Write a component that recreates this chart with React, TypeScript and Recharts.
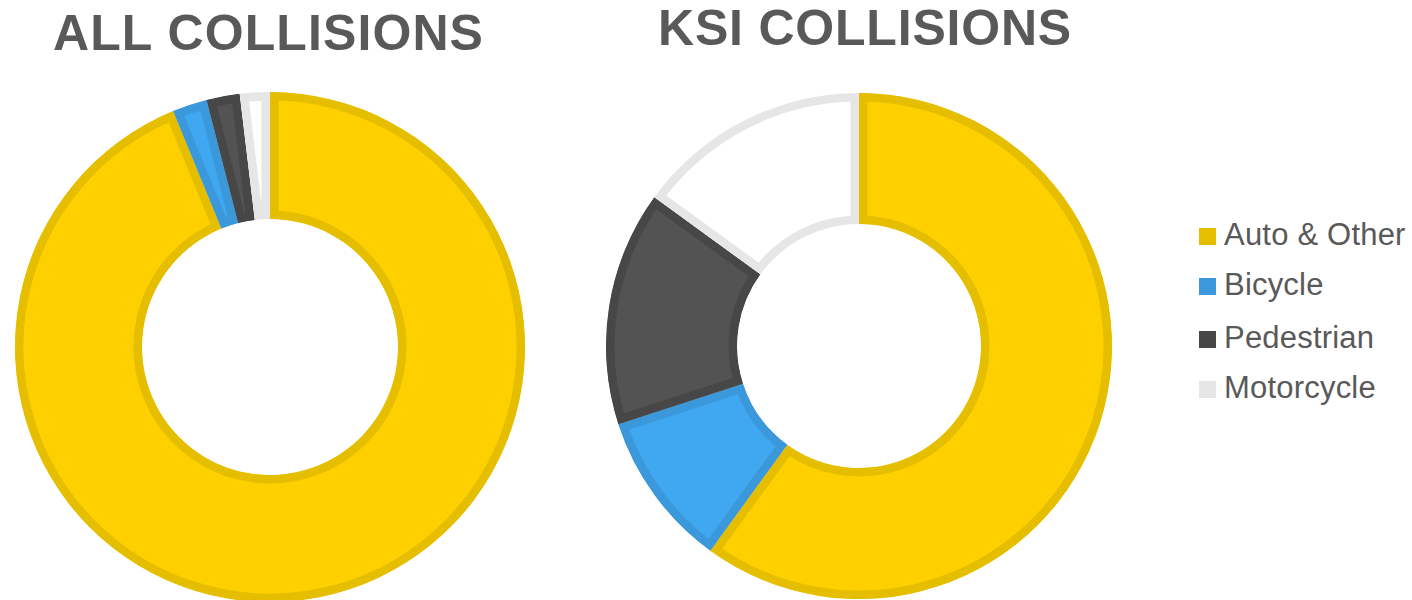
import { PieChart, Pie, Cell, Legend, Sector } from 'recharts';

const categories = ['Auto & Other', 'Bicycle', 'Pedestrian', 'Motorcycle'];
const allValues = [93.8, 2.2, 2.1, 1.9];
const ksiValues = [60, 10, 15, 15];

const fills = ['#FFD000', '#40A8F0', '#535353', '#FFFFFF'];
const borders = ['#E6BE00', '#3A98DB', '#474747', '#E6E6E6'];
const textColor = '#595959';
const font = '"Liberation Sans", Arial, sans-serif';

const allData = categories.map((name, i) => ({ name, value: allValues[i] }));
const ksiData = categories.map((name, i) => ({ name, value: ksiValues[i] }));

// sector with an inner border: stroke twice as wide, clipped to the sector itself
const makeShape = (prefix: string) => (props: any) => {
  const name = props.payload?.name ?? props.name;
  const idx = categories.indexOf(name);
  const id = `${prefix}-clip-${idx}`;
  const geo = {
    cx: props.cx,
    cy: props.cy,
    innerRadius: props.innerRadius,
    outerRadius: props.outerRadius,
    startAngle: props.startAngle,
    endAngle: props.endAngle,
  };
  return (
    <g>
      <defs>
        <clipPath id={id}>
          <Sector {...geo} />
        </clipPath>
      </defs>
      <Sector
        {...geo}
        fill={fills[idx]}
        stroke={borders[idx]}
        strokeWidth={17}
        clipPath={`url(#${id})`}
      />
    </g>
  );
};

function LegendBox() {
  return (
    <svg width={222} height={200}>
      {categories.map((c, i) => {
        const base = 35 + [0, 50, 103, 153][i];
        return (
          <g key={c}>
            <rect x={9} y={base - 17} width={17} height={17} fill={borders[i]} />
            <text x={34} y={base} fontFamily={font} fontSize={31} letterSpacing={0.2} fill={textColor}>
              {c}
            </text>
          </g>
        );
      })}
    </svg>
  );
}

export default function App() {
  return (
    <div style={{ position: 'fixed', left: 0, top: 0, width: 1412, height: 600, background: '#fff' }}>
      <PieChart width={1412} height={600} margin={{ top: 0, right: 0, bottom: 0, left: 0 }}>
        <Pie
          data={allData}
          dataKey="value"
          nameKey="name"
          cx={270}
          cy={347}
          innerRadius={128}
          outerRadius={255}
          startAngle={90}
          endAngle={-270}
          stroke="none"
          shape={makeShape('all')}
          isAnimationActive={false}
        >
          {allData.map((d, i) => (
            <Cell key={d.name} fill={fills[i]} />
          ))}
        </Pie>
        <Pie
          data={ksiData}
          dataKey="value"
          nameKey="name"
          cx={859}
          cy={346}
          innerRadius={122}
          outerRadius={253}
          startAngle={90}
          endAngle={-270}
          stroke="none"
          shape={makeShape('ksi')}
          isAnimationActive={false}
        >
          {ksiData.map((d, i) => (
            <Cell key={d.name} fill={fills[i]} />
          ))}
        </Pie>
        <Legend
          content={() => <LegendBox />}
          wrapperStyle={{ position: 'absolute', left: 1190, top: 210, width: 222 }}
        />
      </PieChart>
      <svg
        width={1412}
        height={80}
        style={{ position: 'absolute', left: 0, top: 0, pointerEvents: 'none' }}
      >
        <text x={268.5} y={50} textAnchor="middle" fontFamily={font} fontWeight="bold" fontSize={50} letterSpacing={1.1} fill={textColor}>
          ALL COLLISIONS
        </text>
        <text x={865} y={45} textAnchor="middle" fontFamily={font} fontWeight="bold" fontSize={50} letterSpacing={0.8} fill={textColor}>
          KSI COLLISIONS
        </text>
      </svg>
    </div>
  );
}
